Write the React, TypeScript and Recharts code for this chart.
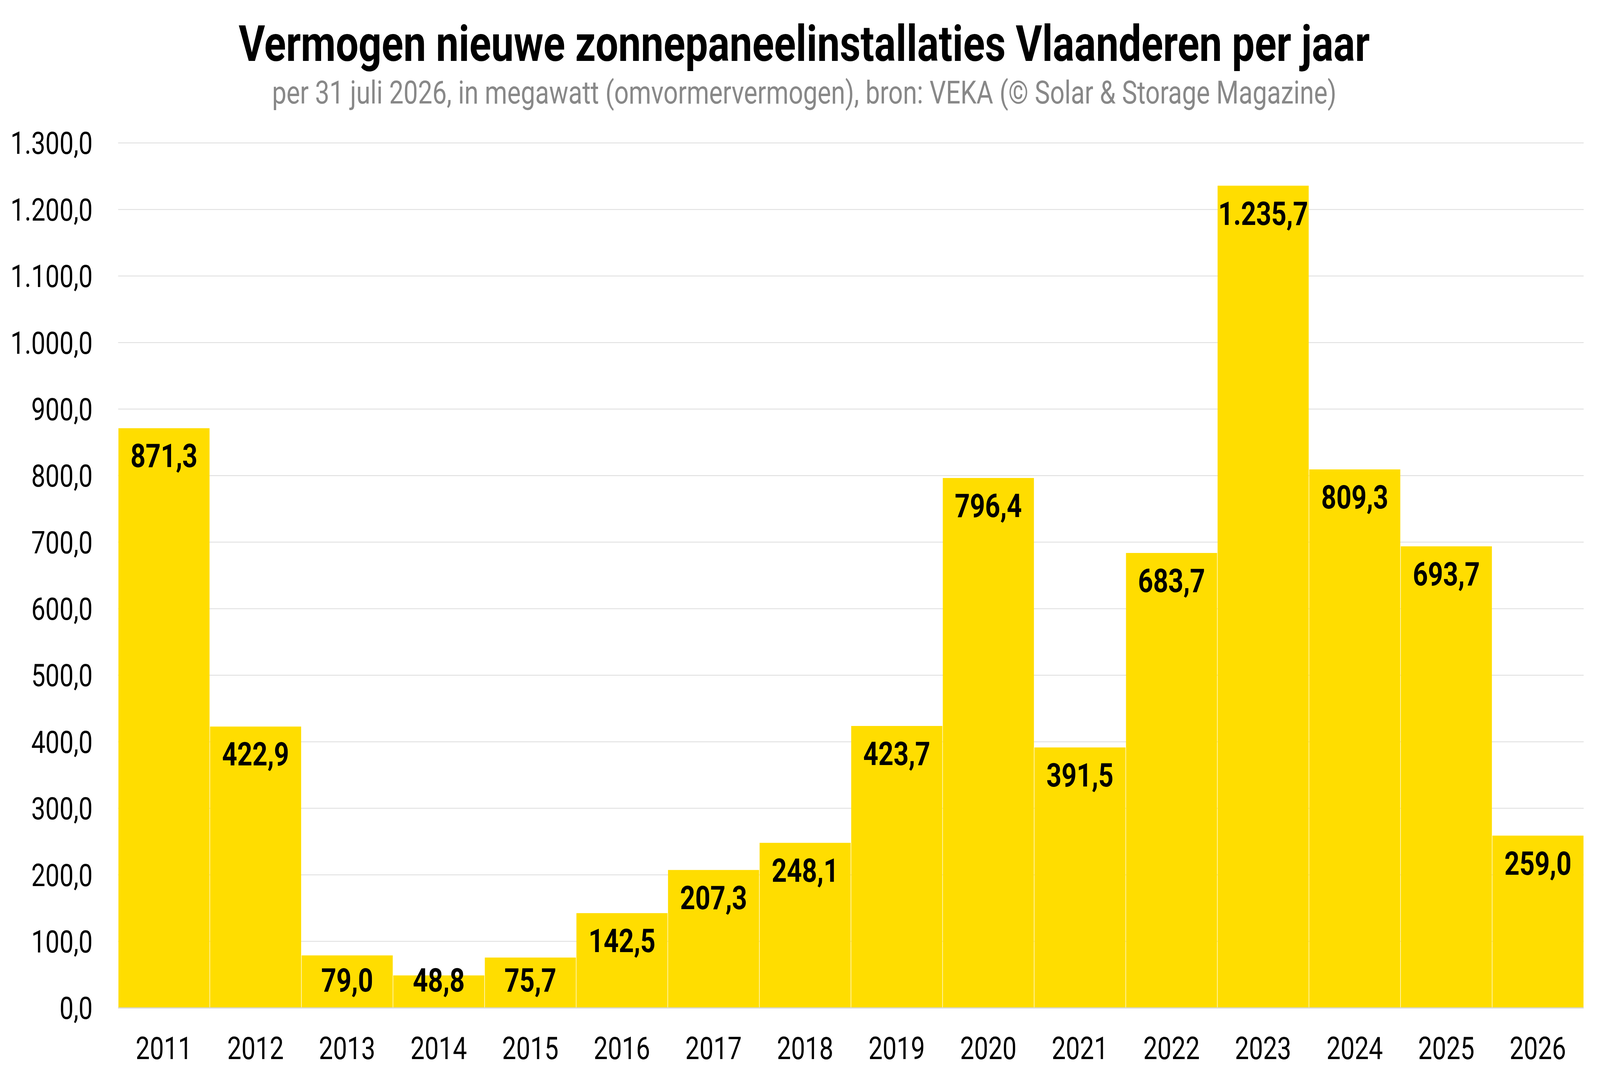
import { BarChart, Bar, XAxis, YAxis, CartesianGrid, LabelList } from 'recharts';

const years = ['2011', '2012', '2013', '2014', '2015', '2016', '2017', '2018', '2019', '2020', '2021', '2022', '2023', '2024', '2025', '2026'];
const capacityMw = [871.3, 422.9, 79.0, 48.8, 75.7, 142.5, 207.3, 248.1, 423.7, 796.4, 391.5, 683.7, 1235.7, 809.3, 693.7, 259.0];
const yTicks = [0, 100, 200, 300, 400, 500, 600, 700, 800, 900, 1000, 1100, 1200, 1300];

const title = 'Vermogen nieuwe zonnepaneelinstallaties Vlaanderen per jaar';
const subtitle = 'per 31 juli 2026, in megawatt (omvormervermogen), bron: VEKA (© Solar & Storage Magazine)';

const chartData = years.map((year, i) => ({ year, value: capacityMw[i] }));

const W = 5093;
const H = 2763;
const ZERO_Y = 2581;

// the browser window may be narrower than the chart; squeeze it horizontally to fit
const viewW = typeof window !== 'undefined' ? window.innerWidth : W;
const sx = Math.min(1, viewW / W);

// Dutch number format: 1.235,7
const fmt = (v: number) => {
  const [int, dec] = v.toFixed(1).split('.');
  return int.replace(/\B(?=(\d{3})+(?!\d))/g, '.') + ',' + dec;
};

const BarValue = (props: any) => {
  const { x, y, width, value } = props;
  // label sits inside the top of the bar, but never lower than just above the axis
  const baseline = Math.min(Number(y) + 100, ZERO_Y - 42);
  return (
    <text
      x={Number(x) + Number(width) / 2}
      y={baseline}
      textAnchor="middle"
      fontFamily="Roboto"
      fontWeight={700}
      fontSize={84}
      fill="#000"
    >
      {fmt(Number(value))}
    </text>
  );
};

export default function App() {
  return (
    <div style={{ position: 'absolute', left: 0, top: 0, width: W * sx, height: H, overflow: 'hidden', background: '#fff' }}>
      <div style={{ position: 'relative', width: W, height: H, transform: `scale(${sx}, 1)`, transformOrigin: '0 0' }}>
        <BarChart
          width={W}
          height={H}
          data={chartData}
          margin={{ top: 366, right: 52, bottom: 0, left: 0 }}
          barCategoryGap={1}
        >
          <CartesianGrid vertical={false} stroke="#dcdcdc" strokeWidth={2} />
          <XAxis
            dataKey="year"
            height={182}
            axisLine={{ stroke: '#d6d6d6', strokeWidth: 3 }}
            tickLine={false}
            tickSize={0}
            tickMargin={74}
            tick={{ fontFamily: 'Roboto', fontSize: 80, fill: '#000' }}
            interval={0}
          />
          <YAxis
            width={376}
            domain={[0, 1300]}
            ticks={yTicks}
            axisLine={false}
            tickLine={false}
            tickSize={0}
            tickMargin={81}
            tickFormatter={fmt}
            tick={{ fontFamily: 'Roboto', fontSize: 80, fill: '#000' }}
          />
          <Bar dataKey="value" fill="#FFDD00" isAnimationActive={false}>
            <LabelList dataKey="value" content={BarValue} />
          </Bar>
        </BarChart>
        <svg width={W} height={320} style={{ position: 'absolute', left: 0, top: 0 }}>
          <text x={2560} y={156} textAnchor="middle" fontFamily="Roboto" fontWeight={700} fontSize={128.5} fill="#000">
            {title}
          </text>
          <text x={2560} y={265} textAnchor="middle" fontFamily="Roboto" fontSize={81.5} fill="#888">
            {subtitle}
          </text>
        </svg>
      </div>
    </div>
  );
}
